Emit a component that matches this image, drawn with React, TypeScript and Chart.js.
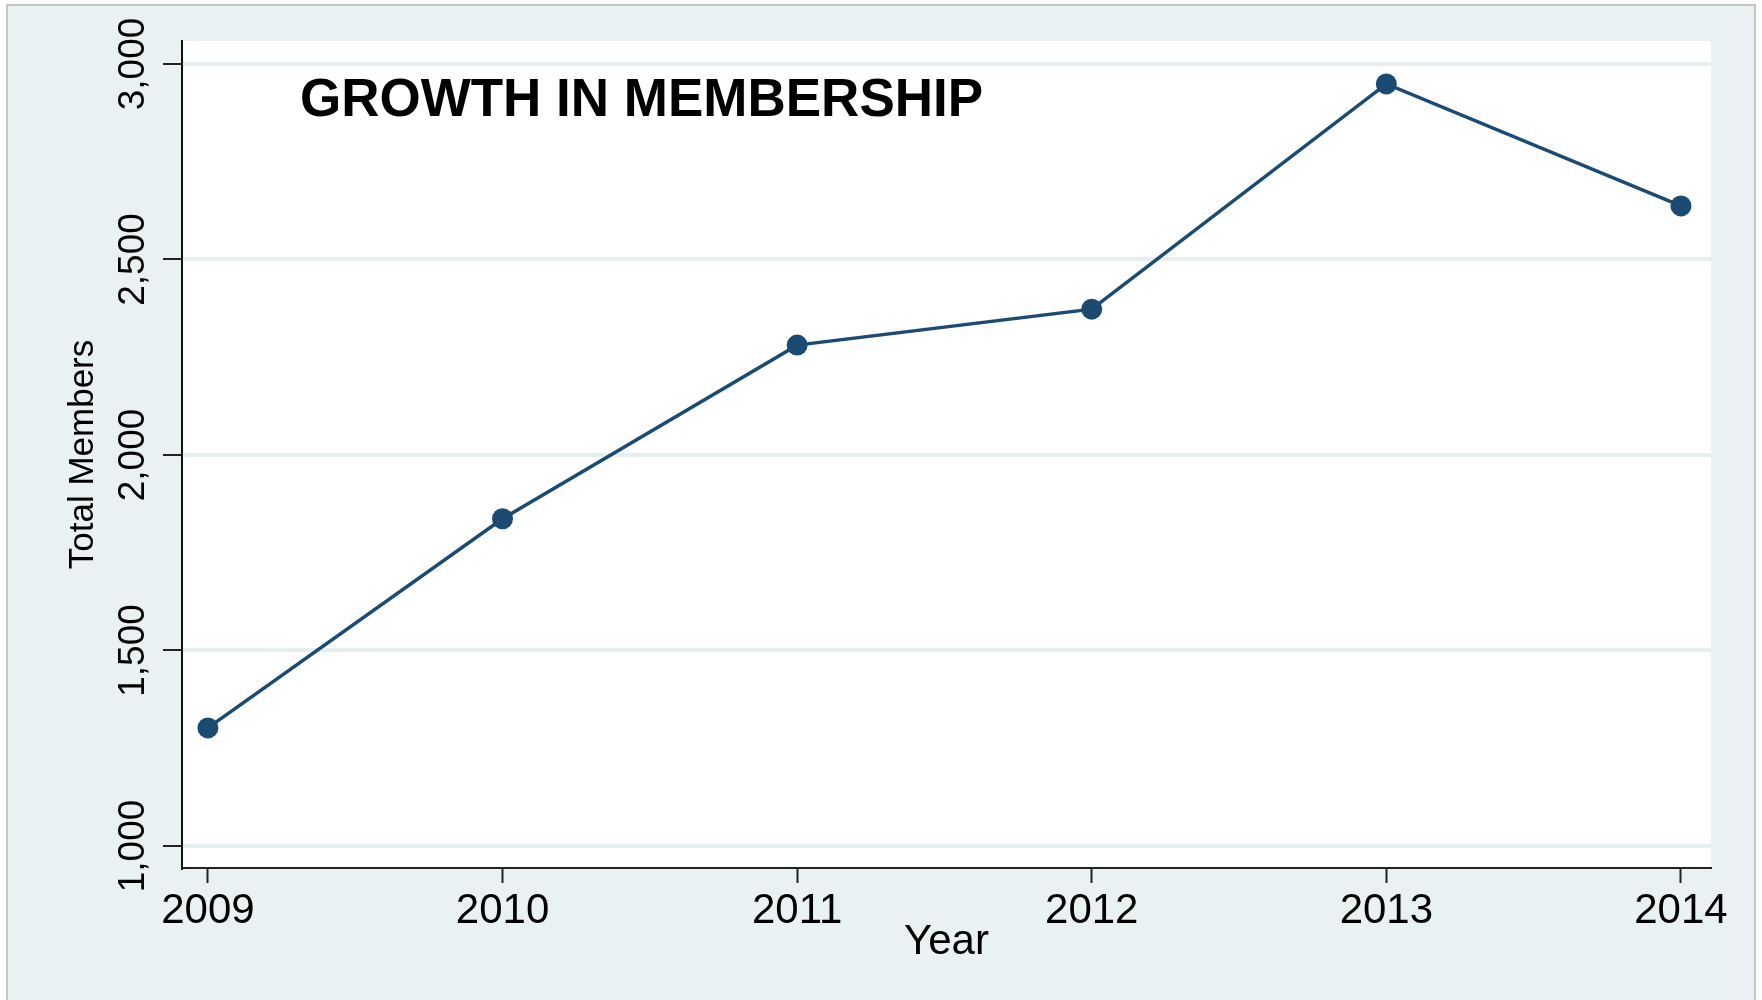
import React, { useEffect, useRef } from "react";
import { Chart, registerables } from "chart.js";

Chart.register(...registerables);

// ---- data ----
const years = [2009, 2010, 2011, 2012, 2013, 2014];
const members = [1302, 1837, 2281, 2373, 2949, 2637];
const yTickValues = [1000, 1500, 2000, 2500, 3000];
const chartTitle = "GROWTH IN MEMBERSHIP";
const xAxisTitle = "Year";
const yAxisTitle = "Total Members";

// ---- styles ----
const FONT = "'Liberation Sans', Arial, Helvetica, sans-serif";
const FRAME_BG = "#EAF1F3";
const GRID = "#E6EEF0";
const LINE = "#1B4A72";

const framePlugin = {
  id: "frame",
  beforeDraw(chart: any) {
    const { ctx, width, height, chartArea } = chart;
    ctx.save();
    ctx.fillStyle = "#ffffff";
    ctx.fillRect(0, 0, width, height);
    ctx.fillStyle = FRAME_BG;
    ctx.fillRect(7, 5, 1748, height);
    ctx.strokeStyle = "#C3C8CA";
    ctx.lineWidth = 2;
    ctx.strokeRect(7, 5, 1748, height + 20);
    ctx.fillStyle = "#ffffff";
    ctx.fillRect(
      chartArea.left,
      chartArea.top,
      chartArea.right - chartArea.left,
      chartArea.bottom - chartArea.top
    );
    ctx.restore();
  },
};

const titlePlugin = {
  id: "innerTitle",
  afterDraw(chart: any) {
    const { ctx, chartArea } = chart;
    ctx.save();
    ctx.font = `bold 53px ${FONT}`;
    ctx.fillStyle = "#000000";
    ctx.textAlign = "left";
    ctx.textBaseline = "alphabetic";
    ctx.fillText(chartTitle, chartArea.left + 118, chartArea.top + 75);
    ctx.restore();
  },
};

export default function App() {
  const ref = useRef<HTMLCanvasElement | null>(null);

  useEffect(() => {
    if (!ref.current) return;
    const chart = new Chart(ref.current, {
      type: "line",
      data: {
        datasets: [
          {
            data: years.map((y, i) => ({ x: y, y: members[i] })),
            borderColor: LINE,
            backgroundColor: LINE,
            borderWidth: 3.5,
            pointRadius: 10.5,
            pointBackgroundColor: LINE,
            pointBorderColor: LINE,
            pointBorderWidth: 0,
            tension: 0,
            fill: false,
          },
        ],
      },
      options: {
        animation: false,
        responsive: false,
        devicePixelRatio: 1,
        layout: { padding: { left: 0, top: 41, right: 51, bottom: 0 } },
        plugins: {
          legend: { display: false },
          tooltip: { enabled: false },
          title: { display: false },
        },
        scales: {
          x: {
            type: "linear",
            min: 2008.912,
            max: 2014.102,
            afterBuildTicks: (s: any) => {
              s.ticks = years.map((v) => ({ value: v }));
            },
            afterFit: (s: any) => {
              s.height = 132;
            },
            grid: {
              drawOnChartArea: false,
              drawTicks: true,
              tickLength: 15,
              tickColor: "#222222",
              tickWidth: 2,
            },
            border: { display: true, color: "#222222", width: 2 },
            ticks: {
              callback: (v: any) => String(v),
              font: { family: FONT, size: 42 },
              color: "#000000",
              padding: 3,
              maxRotation: 0,
              autoSkip: false,
            },
            title: {
              display: true,
              text: xAxisTitle,
              font: { family: FONT, size: 42 },
              color: "#000000",
              padding: { top: 0, bottom: 32 },
            },
          },
          y: {
            type: "linear",
            min: 943.7,
            max: 3058.8,
            afterBuildTicks: (s: any) => {
              s.ticks = yTickValues.map((v) => ({ value: v }));
            },
            afterFit: (s: any) => {
              s.width = 182;
            },
            grid: {
              color: GRID,
              lineWidth: 4,
              drawTicks: true,
              tickLength: 19,
              tickColor: "#222222",
              tickWidth: 2,
            },
            border: { display: true, color: "#111111", width: 2 },
            ticks: {
              callback: (v: any) => Number(v).toLocaleString("en-US"),
              font: { family: FONT, size: 37 },
              color: "#000000",
              minRotation: 90,
              maxRotation: 90,
              crossAlign: "center",
              padding: -17,
              autoSkip: false,
            },
            title: {
              display: true,
              text: yAxisTitle,
              font: { family: FONT, size: 35 },
              color: "#000000",
              padding: { top: 62, bottom: 0 },
            },
          },
        },
      },
      plugins: [framePlugin, titlePlugin],
    } as any);
    return () => chart.destroy();
  }, []);

  return (
    <div style={{ position: "absolute", left: 0, top: 0, width: 1762, height: 1000 }}>
      <canvas ref={ref} width={1762} height={1000} style={{ display: "block" }} />
    </div>
  );
}
